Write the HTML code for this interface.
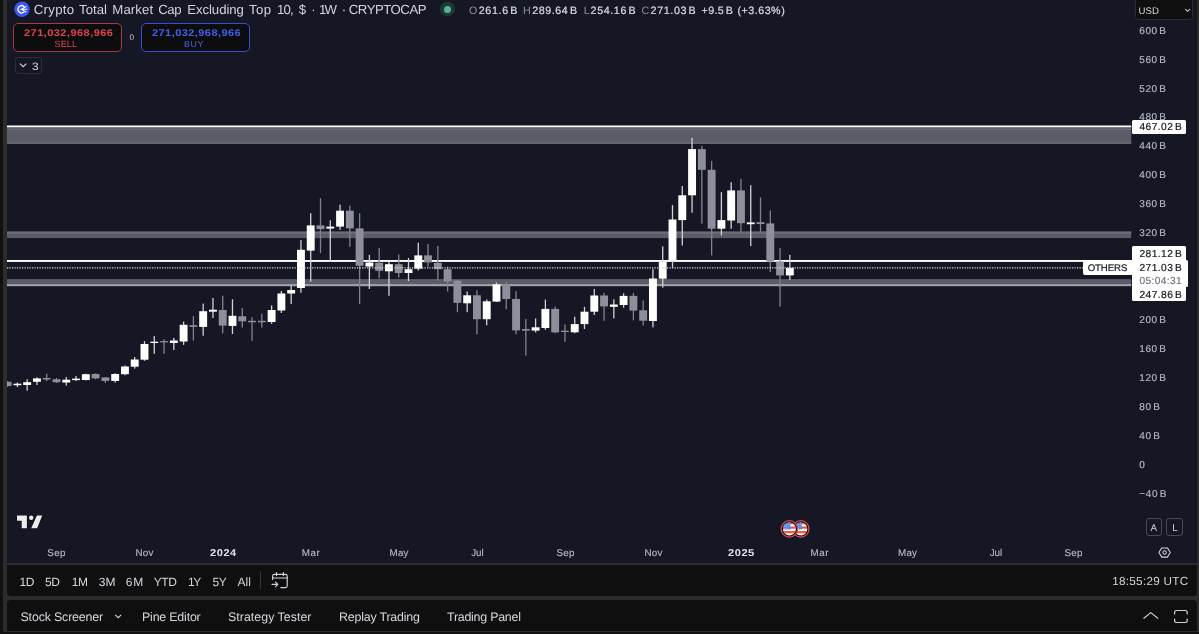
<!DOCTYPE html>
<html><head><meta charset="utf-8"><title>Crypto Total Market Cap Excluding Top 10</title>
<style>
*{margin:0;padding:0;box-sizing:border-box}
html,body{width:1199px;height:634px;overflow:hidden;background:#111111}
body{position:relative;font-family:"Liberation Sans",sans-serif;color:#d1d4dc;text-rendering:geometricPrecision}
.abs{position:absolute}
.frame{position:absolute;left:3px;top:0;width:1196px;height:632px;background:#2c2c2d}
.chartbg{position:absolute;left:7px;top:0;width:1188px;height:563.4px;background:#161724}
.rstrip{position:absolute;left:1195px;top:0;width:2px;height:563.4px;background:#14151b}
.chart{position:absolute;left:0;top:0}
.tb{position:absolute;left:7px;top:565px;width:1190px;height:30.6px;background:#0f0f10;border-radius:0 0 4px 4px}
.bp{position:absolute;left:7px;top:600.2px;width:1190px;height:30.6px;background:#0f0f10;border-radius:4px 4px 0 0}
.t{position:absolute;white-space:nowrap}
.t i{font-style:normal;margin-left:1.5px}
.pv{position:absolute;left:1132px;width:54px;background:#fff}
.btn{position:absolute;top:22.8px;width:109.2px;height:29.2px;border-radius:5px;background:#0d0d0f}
</style></head><body>
<div class="frame"></div>
<div class="chartbg"></div>
<div class="rstrip"></div>
<svg class="chart" width="1199" height="564" viewBox="0 0 1199 564">
<defs><clipPath id="cp"><rect x="7" y="0" width="1124.5" height="564"/></clipPath></defs>
<g clip-path="url(#cp)">
<rect x="7" y="127" width="1124.5" height="17" fill="#5a5d67"/>
<rect x="7" y="128.8" width="1124.5" height="1.2" fill="#696b74"/>
<rect x="7" y="142.3" width="1124.5" height="1.4" fill="#696b74"/>
<rect x="7" y="125.5" width="1124.5" height="1.7" fill="#fff"/>
<rect x="7" y="231.6" width="1124.5" height="6.5" fill="#5a5d67"/>
<rect x="7" y="231.6" width="1124.5" height="2" fill="#6c6e77"/>
<rect x="7" y="260" width="1124.5" height="1.9" fill="#fff"/>
<rect x="7" y="279.1" width="1124.5" height="5.1" fill="#5a5d67"/>
<rect x="7" y="284.1" width="1124.5" height="2.1" fill="#a4a6ae"/>
<rect x="6.95" y="381.0" width="1.3" height="6.0" fill="#80838e"/>
<rect x="3.65" y="381.8" width="7.9" height="4.2" fill="#8d909b"/>
<rect x="16.73" y="382.5" width="1.3" height="4.5" fill="#cfd1d7"/>
<rect x="13.43" y="383.7" width="7.9" height="1.5" fill="#ffffff"/>
<rect x="26.51" y="379.3" width="1.3" height="11.4" fill="#cfd1d7"/>
<rect x="23.21" y="382.2" width="7.9" height="2.8" fill="#ffffff"/>
<rect x="36.28" y="377.4" width="1.3" height="7.6" fill="#cfd1d7"/>
<rect x="32.98" y="378.4" width="7.9" height="3.4" fill="#ffffff"/>
<rect x="46.06" y="373.7" width="1.3" height="7.5" fill="#80838e"/>
<rect x="42.76" y="378.0" width="7.9" height="1.5" fill="#8d909b"/>
<rect x="55.84" y="378.0" width="1.3" height="5.0" fill="#80838e"/>
<rect x="52.54" y="379.3" width="7.9" height="2.9" fill="#8d909b"/>
<rect x="65.62" y="376.9" width="1.3" height="8.7" fill="#cfd1d7"/>
<rect x="62.32" y="379.7" width="7.9" height="2.8" fill="#ffffff"/>
<rect x="75.40" y="376.0" width="1.3" height="5.0" fill="#cfd1d7"/>
<rect x="72.10" y="378.6" width="7.9" height="1.5" fill="#ffffff"/>
<rect x="85.17" y="373.7" width="1.3" height="6.7" fill="#cfd1d7"/>
<rect x="81.87" y="374.2" width="7.9" height="5.8" fill="#ffffff"/>
<rect x="94.95" y="373.3" width="1.3" height="6.0" fill="#80838e"/>
<rect x="91.65" y="374.0" width="7.9" height="4.4" fill="#8d909b"/>
<rect x="104.73" y="377.0" width="1.3" height="6.0" fill="#80838e"/>
<rect x="101.43" y="377.4" width="7.9" height="3.5" fill="#8d909b"/>
<rect x="114.51" y="373.3" width="1.3" height="9.3" fill="#cfd1d7"/>
<rect x="111.21" y="374.0" width="7.9" height="6.9" fill="#ffffff"/>
<rect x="124.29" y="365.5" width="1.3" height="9.7" fill="#cfd1d7"/>
<rect x="120.99" y="366.5" width="7.9" height="7.7" fill="#ffffff"/>
<rect x="134.06" y="357.0" width="1.3" height="11.6" fill="#cfd1d7"/>
<rect x="130.76" y="359.5" width="7.9" height="7.2" fill="#ffffff"/>
<rect x="143.84" y="341.1" width="1.3" height="19.7" fill="#cfd1d7"/>
<rect x="140.54" y="344.0" width="7.9" height="15.7" fill="#ffffff"/>
<rect x="153.62" y="336.0" width="1.3" height="17.8" fill="#cfd1d7"/>
<rect x="150.32" y="341.7" width="7.9" height="1.3" fill="#ffffff"/>
<rect x="163.40" y="339.2" width="1.3" height="14.6" fill="#80838e"/>
<rect x="160.10" y="341.1" width="7.9" height="1.3" fill="#8d909b"/>
<rect x="173.18" y="337.9" width="1.3" height="12.1" fill="#cfd1d7"/>
<rect x="169.88" y="340.5" width="7.9" height="2.5" fill="#ffffff"/>
<rect x="182.95" y="321.6" width="1.3" height="23.3" fill="#cfd1d7"/>
<rect x="179.65" y="324.8" width="7.9" height="16.7" fill="#ffffff"/>
<rect x="192.73" y="316.2" width="1.3" height="24.4" fill="#80838e"/>
<rect x="189.43" y="325.2" width="7.9" height="1.7" fill="#8d909b"/>
<rect x="202.51" y="303.6" width="1.3" height="32.1" fill="#cfd1d7"/>
<rect x="199.21" y="311.2" width="7.9" height="15.7" fill="#ffffff"/>
<rect x="212.29" y="298.0" width="1.3" height="20.0" fill="#cfd1d7"/>
<rect x="208.99" y="309.7" width="7.9" height="2.0" fill="#ffffff"/>
<rect x="222.07" y="295.6" width="1.3" height="37.6" fill="#80838e"/>
<rect x="218.77" y="310.0" width="7.9" height="15.6" fill="#8d909b"/>
<rect x="231.84" y="299.3" width="1.3" height="34.7" fill="#cfd1d7"/>
<rect x="228.54" y="315.8" width="7.9" height="10.1" fill="#ffffff"/>
<rect x="241.62" y="308.0" width="1.3" height="19.6" fill="#80838e"/>
<rect x="238.32" y="316.3" width="7.9" height="5.0" fill="#8d909b"/>
<rect x="251.40" y="317.0" width="1.3" height="23.8" fill="#80838e"/>
<rect x="248.10" y="320.8" width="7.9" height="1.5" fill="#8d909b"/>
<rect x="261.18" y="313.7" width="1.3" height="13.9" fill="#80838e"/>
<rect x="257.88" y="320.8" width="7.9" height="1.5" fill="#8d909b"/>
<rect x="270.96" y="305.4" width="1.3" height="18.4" fill="#cfd1d7"/>
<rect x="267.66" y="310.0" width="7.9" height="12.0" fill="#ffffff"/>
<rect x="280.73" y="291.0" width="1.3" height="22.0" fill="#cfd1d7"/>
<rect x="277.43" y="293.5" width="7.9" height="17.0" fill="#ffffff"/>
<rect x="290.51" y="285.5" width="1.3" height="18.6" fill="#cfd1d7"/>
<rect x="287.21" y="290.0" width="7.9" height="3.5" fill="#ffffff"/>
<rect x="300.29" y="240.0" width="1.3" height="52.8" fill="#cfd1d7"/>
<rect x="296.99" y="249.8" width="7.9" height="38.2" fill="#ffffff"/>
<rect x="310.07" y="213.2" width="1.3" height="68.5" fill="#cfd1d7"/>
<rect x="306.77" y="225.4" width="7.9" height="25.2" fill="#ffffff"/>
<rect x="319.85" y="198.3" width="1.3" height="54.8" fill="#80838e"/>
<rect x="316.55" y="225.4" width="7.9" height="3.7" fill="#8d909b"/>
<rect x="329.62" y="220.3" width="1.3" height="41.2" fill="#cfd1d7"/>
<rect x="326.32" y="226.6" width="7.9" height="2.0" fill="#ffffff"/>
<rect x="339.40" y="204.6" width="1.3" height="25.3" fill="#cfd1d7"/>
<rect x="336.10" y="210.7" width="7.9" height="15.9" fill="#ffffff"/>
<rect x="349.18" y="205.7" width="1.3" height="41.1" fill="#80838e"/>
<rect x="345.88" y="210.7" width="7.9" height="17.7" fill="#8d909b"/>
<rect x="358.96" y="213.2" width="1.3" height="90.9" fill="#80838e"/>
<rect x="355.66" y="228.4" width="7.9" height="37.4" fill="#8d909b"/>
<rect x="368.74" y="254.9" width="1.3" height="34.1" fill="#cfd1d7"/>
<rect x="365.44" y="262.5" width="7.9" height="4.0" fill="#ffffff"/>
<rect x="378.51" y="248.0" width="1.3" height="30.4" fill="#80838e"/>
<rect x="375.21" y="262.7" width="7.9" height="8.1" fill="#8d909b"/>
<rect x="388.29" y="261.7" width="1.3" height="34.1" fill="#cfd1d7"/>
<rect x="384.99" y="264.2" width="7.9" height="7.1" fill="#ffffff"/>
<rect x="398.07" y="254.6" width="1.3" height="23.0" fill="#80838e"/>
<rect x="394.77" y="264.2" width="7.9" height="8.8" fill="#8d909b"/>
<rect x="407.85" y="257.9" width="1.3" height="23.2" fill="#cfd1d7"/>
<rect x="404.55" y="269.2" width="7.9" height="3.8" fill="#ffffff"/>
<rect x="417.63" y="242.7" width="1.3" height="27.8" fill="#cfd1d7"/>
<rect x="414.33" y="255.4" width="7.9" height="13.3" fill="#ffffff"/>
<rect x="427.40" y="244.0" width="1.3" height="22.7" fill="#80838e"/>
<rect x="424.10" y="255.4" width="7.9" height="7.0" fill="#8d909b"/>
<rect x="437.18" y="246.0" width="1.3" height="34.6" fill="#80838e"/>
<rect x="433.88" y="262.9" width="7.9" height="6.3" fill="#8d909b"/>
<rect x="446.96" y="266.7" width="1.3" height="24.8" fill="#80838e"/>
<rect x="443.66" y="269.2" width="7.9" height="12.2" fill="#8d909b"/>
<rect x="456.74" y="279.8" width="1.3" height="32.4" fill="#80838e"/>
<rect x="453.44" y="280.6" width="7.9" height="22.2" fill="#8d909b"/>
<rect x="466.52" y="291.5" width="1.3" height="20.7" fill="#cfd1d7"/>
<rect x="463.22" y="295.3" width="7.9" height="8.0" fill="#ffffff"/>
<rect x="476.29" y="290.2" width="1.3" height="44.2" fill="#80838e"/>
<rect x="472.99" y="295.3" width="7.9" height="23.9" fill="#8d909b"/>
<rect x="486.07" y="299.5" width="1.3" height="25.8" fill="#cfd1d7"/>
<rect x="482.77" y="301.3" width="7.9" height="17.9" fill="#ffffff"/>
<rect x="495.85" y="282.6" width="1.3" height="19.4" fill="#cfd1d7"/>
<rect x="492.55" y="284.4" width="7.9" height="17.2" fill="#ffffff"/>
<rect x="505.63" y="281.9" width="1.3" height="27.2" fill="#80838e"/>
<rect x="502.33" y="284.4" width="7.9" height="14.6" fill="#8d909b"/>
<rect x="515.41" y="291.2" width="1.3" height="43.2" fill="#80838e"/>
<rect x="512.11" y="299.0" width="7.9" height="31.4" fill="#8d909b"/>
<rect x="525.18" y="319.0" width="1.3" height="36.6" fill="#80838e"/>
<rect x="521.88" y="329.0" width="7.9" height="1.6" fill="#8d909b"/>
<rect x="534.96" y="318.5" width="1.3" height="13.9" fill="#cfd1d7"/>
<rect x="531.66" y="327.3" width="7.9" height="3.3" fill="#ffffff"/>
<rect x="544.74" y="299.5" width="1.3" height="30.3" fill="#cfd1d7"/>
<rect x="541.44" y="308.9" width="7.9" height="19.1" fill="#ffffff"/>
<rect x="554.52" y="306.6" width="1.3" height="26.5" fill="#80838e"/>
<rect x="551.22" y="308.9" width="7.9" height="23.5" fill="#8d909b"/>
<rect x="564.30" y="324.5" width="1.3" height="17.3" fill="#80838e"/>
<rect x="561.00" y="330.7" width="7.9" height="1.3" fill="#8d909b"/>
<rect x="574.07" y="316.7" width="1.3" height="16.5" fill="#cfd1d7"/>
<rect x="570.77" y="324.1" width="7.9" height="8.2" fill="#ffffff"/>
<rect x="583.85" y="306.8" width="1.3" height="22.2" fill="#cfd1d7"/>
<rect x="580.55" y="311.7" width="7.9" height="12.4" fill="#ffffff"/>
<rect x="593.63" y="288.9" width="1.3" height="26.1" fill="#cfd1d7"/>
<rect x="590.33" y="295.5" width="7.9" height="16.2" fill="#ffffff"/>
<rect x="603.41" y="292.9" width="1.3" height="27.8" fill="#80838e"/>
<rect x="600.11" y="295.5" width="7.9" height="10.9" fill="#8d909b"/>
<rect x="613.19" y="299.3" width="1.3" height="19.1" fill="#cfd1d7"/>
<rect x="609.89" y="304.5" width="7.9" height="2.3" fill="#ffffff"/>
<rect x="622.96" y="293.3" width="1.3" height="14.4" fill="#cfd1d7"/>
<rect x="619.66" y="295.9" width="7.9" height="9.1" fill="#ffffff"/>
<rect x="632.74" y="292.9" width="1.3" height="27.3" fill="#80838e"/>
<rect x="629.44" y="295.9" width="7.9" height="14.7" fill="#8d909b"/>
<rect x="642.52" y="300.4" width="1.3" height="25.1" fill="#80838e"/>
<rect x="639.22" y="310.3" width="7.9" height="10.4" fill="#8d909b"/>
<rect x="652.30" y="269.1" width="1.3" height="58.2" fill="#cfd1d7"/>
<rect x="649.00" y="278.5" width="7.9" height="42.5" fill="#ffffff"/>
<rect x="662.08" y="246.4" width="1.3" height="41.3" fill="#cfd1d7"/>
<rect x="658.78" y="262.0" width="7.9" height="16.7" fill="#ffffff"/>
<rect x="671.85" y="205.1" width="1.3" height="62.7" fill="#cfd1d7"/>
<rect x="668.55" y="219.5" width="7.9" height="41.3" fill="#ffffff"/>
<rect x="681.63" y="186.0" width="1.3" height="59.5" fill="#cfd1d7"/>
<rect x="678.33" y="195.3" width="7.9" height="24.8" fill="#ffffff"/>
<rect x="691.41" y="137.8" width="1.3" height="74.9" fill="#cfd1d7"/>
<rect x="688.11" y="149.1" width="7.9" height="46.2" fill="#ffffff"/>
<rect x="701.19" y="146.0" width="1.3" height="77.6" fill="#80838e"/>
<rect x="697.89" y="149.1" width="7.9" height="20.7" fill="#8d909b"/>
<rect x="710.97" y="161.0" width="1.3" height="94.4" fill="#80838e"/>
<rect x="707.67" y="169.8" width="7.9" height="58.9" fill="#8d909b"/>
<rect x="720.74" y="192.2" width="1.3" height="43.1" fill="#cfd1d7"/>
<rect x="717.44" y="220.1" width="7.9" height="8.6" fill="#ffffff"/>
<rect x="730.52" y="182.2" width="1.3" height="46.5" fill="#cfd1d7"/>
<rect x="727.22" y="190.4" width="7.9" height="30.1" fill="#ffffff"/>
<rect x="740.30" y="178.9" width="1.3" height="52.9" fill="#80838e"/>
<rect x="737.00" y="190.4" width="7.9" height="32.8" fill="#8d909b"/>
<rect x="750.08" y="185.2" width="1.3" height="60.9" fill="#cfd1d7"/>
<rect x="746.78" y="222.4" width="7.9" height="1.8" fill="#ffffff"/>
<rect x="759.86" y="197.5" width="1.3" height="34.5" fill="#80838e"/>
<rect x="756.56" y="222.2" width="7.9" height="1.8" fill="#8d909b"/>
<rect x="769.63" y="210.4" width="1.3" height="61.6" fill="#80838e"/>
<rect x="766.33" y="223.4" width="7.9" height="38.1" fill="#8d909b"/>
<rect x="779.41" y="247.9" width="1.3" height="58.7" fill="#80838e"/>
<rect x="776.11" y="261.5" width="7.9" height="13.9" fill="#8d909b"/>
<rect x="789.19" y="254.9" width="1.3" height="25.0" fill="#cfd1d7"/>
<rect x="785.89" y="267.8" width="7.9" height="7.6" fill="#ffffff"/>
<line x1="7" y1="267.8" x2="1083" y2="267.8" stroke="#d2d4db" stroke-width="1.3" stroke-dasharray="1.25 1.25"/>
</g></svg>
<svg class="abs" style="left:14px;top:1px" width="17" height="17" viewBox="0 0 17 17"><circle cx="8" cy="8.3" r="7.7" fill="#3a58ef"/><path d="M9.9 5.5A3.6 3.6 0 1 0 9.9 11.1" fill="none" stroke="#fff" stroke-width="1.3" stroke-linecap="round"/><path d="M6.6 8.3H12.8M8.4 7.7L12 5.6M8.4 8.9L12 11" stroke="#fff" stroke-width="1.1" stroke-linecap="round"/></svg>
<div class="abs" style="left:440.1px;top:1.8px;width:14.6px;height:14.6px;border-radius:50%;background:#1e3838"></div>
<div class="abs" style="left:443.8px;top:5.5px;width:7.2px;height:7.2px;border-radius:50%;background:#52b596"></div>
<div class="t " style="left:33.70px;top:2.00px;font-size:13.2px;line-height:16px;letter-spacing:0.331px;color:#d1d4dc;">Crypto</div><div class="t " style="left:79.00px;top:2.00px;font-size:13.2px;line-height:16px;letter-spacing:0.039px;color:#d1d4dc;">Total</div><div class="t " style="left:112.30px;top:2.00px;font-size:13.2px;line-height:16px;letter-spacing:0.117px;color:#d1d4dc;">Market</div><div class="t " style="left:158.20px;top:2.00px;font-size:13.2px;line-height:16px;letter-spacing:-0.394px;color:#d1d4dc;">Cap</div><div class="t " style="left:187.20px;top:2.00px;font-size:13.2px;line-height:16px;letter-spacing:-0.061px;color:#d1d4dc;">Excluding</div><div class="t " style="left:249.00px;top:2.00px;font-size:13.2px;line-height:16px;letter-spacing:0.375px;color:#d1d4dc;">Top</div><div class="t " style="left:276.90px;top:2.00px;font-size:13.2px;line-height:16px;letter-spacing:-0.822px;color:#d1d4dc;">10,</div><div class="t " style="left:298.80px;top:2.00px;font-size:13.2px;line-height:16px;letter-spacing:0.000px;color:#d1d4dc;">$</div><div class="t " style="left:311.30px;top:2.00px;font-size:13.2px;line-height:16px;letter-spacing:0.000px;color:#d1d4dc;">·</div><div class="t " style="left:319.00px;top:2.00px;font-size:13.2px;line-height:16px;letter-spacing:-1.781px;color:#d1d4dc;">1W</div><div class="t " style="left:341.70px;top:2.00px;font-size:13.2px;line-height:16px;letter-spacing:0.000px;color:#d1d4dc;">·</div><div class="t " style="left:348.80px;top:2.00px;font-size:13.2px;line-height:16px;letter-spacing:-0.487px;color:#d1d4dc;">CRYPTOCAP</div><div class="t " style="left:469.00px;top:3.00px;font-size:10.7px;line-height:16px;letter-spacing:0.000px;color:#8c909c;">O</div><div class="t " style="left:478.70px;top:3.00px;font-size:10.7px;line-height:16px;letter-spacing:0.665px;color:#d8dbe3;-webkit-text-stroke:0.22px #d8dbe3;">261.6<i>B</i></div><div class="t " style="left:523.00px;top:3.00px;font-size:10.7px;line-height:16px;letter-spacing:0.000px;color:#8c909c;">H</div><div class="t " style="left:532.20px;top:3.00px;font-size:10.7px;line-height:16px;letter-spacing:0.581px;color:#d8dbe3;-webkit-text-stroke:0.22px #d8dbe3;">289.64<i>B</i></div><div class="t " style="left:583.80px;top:3.00px;font-size:10.7px;line-height:16px;letter-spacing:0.000px;color:#8c909c;">L</div><div class="t " style="left:590.60px;top:3.00px;font-size:10.7px;line-height:16px;letter-spacing:0.615px;color:#d8dbe3;-webkit-text-stroke:0.22px #d8dbe3;">254.16<i>B</i></div><div class="t " style="left:641.40px;top:3.00px;font-size:10.7px;line-height:16px;letter-spacing:0.000px;color:#8c909c;">C</div><div class="t " style="left:650.60px;top:3.00px;font-size:10.7px;line-height:16px;letter-spacing:0.631px;color:#d8dbe3;-webkit-text-stroke:0.22px #d8dbe3;">271.03<i>B</i></div><div class="t " style="left:701.60px;top:3.00px;font-size:10.7px;line-height:16px;letter-spacing:0.370px;color:#d8dbe3;-webkit-text-stroke:0.22px #d8dbe3;">+9.5<i>B</i></div><div class="t " style="left:737.40px;top:3.00px;font-size:10.7px;line-height:16px;letter-spacing:0.521px;color:#d8dbe3;-webkit-text-stroke:0.22px #d8dbe3;">(+3.63%)</div>
<div class="btn" style="left:13.2px;border:1.1px solid #aa383f"></div>
<div class="btn" style="left:141.1px;border:1.1px solid #3650d2"></div>
<div class="t " style="left:23.70px;top:26.00px;font-size:9.8px;line-height:16px;letter-spacing:0.415px;color:#e0454e;font-weight:bold;transform:scaleX(1.12);transform-origin:0 0;">271,032,968,966</div><div class="t " style="left:54.50px;top:36.00px;font-size:9.1px;line-height:16px;letter-spacing:0.083px;color:#e0454e;">SELL</div><div class="t " style="left:151.50px;top:26.00px;font-size:9.8px;line-height:16px;letter-spacing:0.402px;color:#4160ee;font-weight:bold;transform:scaleX(1.12);transform-origin:0 0;">271,032,968,966</div><div class="t " style="left:184.00px;top:36.00px;font-size:8.9px;line-height:16px;letter-spacing:0.594px;color:#4160ee;">BUY</div><div class="t " style="left:129.40px;top:30.00px;font-size:8.2px;line-height:16px;letter-spacing:0.000px;color:#c8cbd3;">0</div><div class="t " style="left:31.60px;top:59.00px;font-size:10.8px;line-height:16px;letter-spacing:0.000px;color:#d1d4dc;transform:scaleX(1.1);transform-origin:0 0;">3</div>
<div class="abs" style="left:14.9px;top:57.4px;width:27.2px;height:16.4px;border:1px solid #2b2e39;border-radius:3px"></div>
<svg class="abs" style="left:19px;top:62px" width="9" height="7" viewBox="0 0 9 7"><path d="M1 1.6L4.2 4.6L7.4 1.6" fill="none" stroke="#d1d4dc" stroke-width="1.2"/></svg>
<div class="t " style="left:1139.30px;top:24.00px;font-size:10.0px;line-height:16px;letter-spacing:0.552px;color:#b4b7c1;-webkit-text-stroke:0.18px #b4b7c1;">600<i>B</i></div><div class="t " style="left:1139.30px;top:53.00px;font-size:10.0px;line-height:16px;letter-spacing:0.552px;color:#b4b7c1;-webkit-text-stroke:0.18px #b4b7c1;">560<i>B</i></div><div class="t " style="left:1139.30px;top:82.00px;font-size:10.0px;line-height:16px;letter-spacing:0.552px;color:#b4b7c1;-webkit-text-stroke:0.18px #b4b7c1;">520<i>B</i></div><div class="t " style="left:1139.30px;top:110.00px;font-size:10.0px;line-height:16px;letter-spacing:0.552px;color:#b4b7c1;-webkit-text-stroke:0.18px #b4b7c1;">480<i>B</i></div><div class="t " style="left:1139.30px;top:139.00px;font-size:10.0px;line-height:16px;letter-spacing:0.552px;color:#b4b7c1;-webkit-text-stroke:0.18px #b4b7c1;">440<i>B</i></div><div class="t " style="left:1139.30px;top:168.00px;font-size:10.0px;line-height:16px;letter-spacing:0.552px;color:#b4b7c1;-webkit-text-stroke:0.18px #b4b7c1;">400<i>B</i></div><div class="t " style="left:1139.30px;top:197.00px;font-size:10.0px;line-height:16px;letter-spacing:0.552px;color:#b4b7c1;-webkit-text-stroke:0.18px #b4b7c1;">360<i>B</i></div><div class="t " style="left:1139.30px;top:226.00px;font-size:10.0px;line-height:16px;letter-spacing:0.552px;color:#b4b7c1;-webkit-text-stroke:0.18px #b4b7c1;">320<i>B</i></div><div class="t " style="left:1139.30px;top:313.00px;font-size:10.0px;line-height:16px;letter-spacing:0.552px;color:#b4b7c1;-webkit-text-stroke:0.18px #b4b7c1;">200<i>B</i></div><div class="t " style="left:1139.30px;top:342.00px;font-size:10.0px;line-height:16px;letter-spacing:0.552px;color:#b4b7c1;-webkit-text-stroke:0.18px #b4b7c1;">160<i>B</i></div><div class="t " style="left:1139.30px;top:371.00px;font-size:10.0px;line-height:16px;letter-spacing:0.552px;color:#b4b7c1;-webkit-text-stroke:0.18px #b4b7c1;">120<i>B</i></div><div class="t " style="left:1139.30px;top:400.00px;font-size:10.0px;line-height:16px;letter-spacing:0.659px;color:#b4b7c1;-webkit-text-stroke:0.18px #b4b7c1;">80<i>B</i></div><div class="t " style="left:1139.30px;top:429.00px;font-size:10.0px;line-height:16px;letter-spacing:0.659px;color:#b4b7c1;-webkit-text-stroke:0.18px #b4b7c1;">40<i>B</i></div><div class="t " style="left:1139.30px;top:458.00px;font-size:10.0px;line-height:16px;letter-spacing:0.000px;color:#b4b7c1;-webkit-text-stroke:0.18px #b4b7c1;">0</div><div class="t " style="left:1139.30px;top:487.00px;font-size:10.0px;line-height:16px;letter-spacing:0.692px;color:#b4b7c1;-webkit-text-stroke:0.18px #b4b7c1;">−40<i>B</i></div>
<div class="abs" style="left:1135.3px;top:-2px;width:57.7px;height:22.4px;background:#0f0f10;border:1px solid #2a2d37;border-radius:3.5px"></div>
<svg class="abs" style="left:1184px;top:7.7px" width="8" height="6" viewBox="0 0 8 6"><path d="M1.3 1.2L3.6 3.3L5.9 1.2" fill="none" stroke="#d1d4dc" stroke-width="1.1"/></svg>
<div class="pv" style="top:119.5px;height:14.2px;border-radius:1.5px"></div>
<div class="pv" style="top:246.3px;height:14.2px;border-radius:1.5px 1.5px 0 0"></div>
<div class="pv" style="top:260.4px;height:26.7px;width:56px;border-radius:0 1.5px 1.5px 0"></div>
<div class="pv" style="top:287px;height:14.3px;border-radius:0 0 1.5px 1.5px"></div>
<div class="abs" style="left:1083px;top:260px;width:48.8px;height:15px;background:#fff;border-radius:0 0 0 2px"></div>
<div class="abs" style="left:1145.9px;top:518.4px;width:16.6px;height:18px;border:1px solid #474a56;border-radius:3px"></div>
<div class="abs" style="left:1166.2px;top:518.4px;width:16.6px;height:18px;border:1px solid #474a56;border-radius:3px"></div>
<div class="t " style="left:1139.40px;top:120.00px;font-size:10.2px;line-height:16px;letter-spacing:0.472px;color:#14161e;-webkit-text-stroke:0.2px #14161e;">467.02<i>B</i></div><div class="t " style="left:1139.40px;top:247.00px;font-size:10.2px;line-height:16px;letter-spacing:0.472px;color:#14161e;-webkit-text-stroke:0.2px #14161e;">281.12<i>B</i></div><div class="t " style="left:1139.40px;top:261.00px;font-size:10.2px;line-height:16px;letter-spacing:0.472px;color:#14161e;-webkit-text-stroke:0.2px #14161e;">271.03<i>B</i></div><div class="t " style="left:1139.60px;top:274.00px;font-size:10.2px;line-height:16px;letter-spacing:0.335px;color:#6d707a;-webkit-text-stroke:0.15px #6d707a;">05:04:31</div><div class="t " style="left:1139.40px;top:288.00px;font-size:10.2px;line-height:16px;letter-spacing:0.472px;color:#14161e;-webkit-text-stroke:0.2px #14161e;">247.86<i>B</i></div><div class="t " style="left:1087.70px;top:261.00px;font-size:9.6px;line-height:16px;letter-spacing:-0.074px;color:#14161e;-webkit-text-stroke:0.2px #14161e;">OTHERS</div><div class="t " style="left:1138.60px;top:4.00px;font-size:9.6px;line-height:16px;letter-spacing:0.025px;color:#d5d7dd;">USD</div><div class="t " style="left:1150.60px;top:521.00px;font-size:9.7px;line-height:16px;letter-spacing:0.000px;color:#d5d7dd;">A</div><div class="t " style="left:1172.20px;top:521.00px;font-size:9.7px;line-height:16px;letter-spacing:0.000px;color:#d5d7dd;">L</div>
<svg class="abs" style="left:1157px;top:545px" width="15" height="15" viewBox="0 0 15 15"><path d="M4.8 2.9H10.4L13.3 7.5L10.4 12.1H4.8L1.9 7.5Z" fill="none" stroke="#d1d4dc" stroke-width="1.05" stroke-linejoin="round"/><circle cx="7.6" cy="7.5" r="1.7" fill="none" stroke="#d1d4dc" stroke-width="1.05"/></svg>
<svg class="abs" style="left:14px;top:512px" width="32" height="20" viewBox="0 0 32 20"><g fill="#ececec" stroke="#0c0d12" stroke-width="1.2" paint-order="stroke"><path d="M3 3.6H12.9V16.2H7.7V8.8H3Z"/><circle cx="17.2" cy="5.8" r="2.2"/><path d="M22.9 3.6H28.3L23.1 16.2H17.2Z"/></g></svg>
<svg class="abs" style="left:778px;top:518px" width="36" height="22" viewBox="0 0 36 22"><defs><clipPath id="fc"><circle cx="0" cy="0" r="6.5"/></clipPath><g id="fl"><circle cx="0" cy="0" r="8.2" fill="#22060b" stroke="#d8535d" stroke-width="1.2"/><g clip-path="url(#fc)"><rect x="-7" y="-7" width="14" height="14" fill="#fff4ef"/><rect x="-7" y="-6.8" width="14" height="2.2" fill="#e46a5e"/><rect x="-7" y="-2.4" width="14" height="2.2" fill="#e25a4e"/><rect x="-7" y="2.1" width="14" height="2.4" fill="#e4604f"/><rect x="-7" y="-7" width="7.9" height="7.5" fill="#4a86e6"/><g fill="#cfe3ff"><circle cx="-4.6" cy="-4.6" r="0.5"/><circle cx="-2.6" cy="-4.6" r="0.5"/><circle cx="-0.6" cy="-4.6" r="0.5"/><circle cx="-4.6" cy="-2.6" r="0.5"/><circle cx="-2.6" cy="-2.6" r="0.5"/><circle cx="-0.6" cy="-2.6" r="0.5"/><circle cx="-4.6" cy="-0.6" r="0.5"/><circle cx="-2.6" cy="-0.6" r="0.5"/></g></g></g></defs><use href="#fl" x="22.8" y="10.9"/><use href="#fl" x="11.4" y="10.9"/></svg>
<div class="t " style="left:47.30px;top:546.00px;font-size:9.8px;line-height:16px;letter-spacing:0.366px;color:#b4b7c1;-webkit-text-stroke:0.15px #b4b7c1;">Sep</div><div class="t " style="left:135.60px;top:546.00px;font-size:9.8px;line-height:16px;letter-spacing:0.181px;color:#b4b7c1;-webkit-text-stroke:0.15px #b4b7c1;">Nov</div><div class="t " style="left:209.55px;top:546.00px;font-size:9.9px;line-height:16px;letter-spacing:0.484px;color:#dfe1e8;font-weight:bold;transform:scaleX(1.12);transform-origin:0 0;">2024</div><div class="t " style="left:301.65px;top:546.00px;font-size:9.8px;line-height:16px;letter-spacing:0.597px;color:#b4b7c1;-webkit-text-stroke:0.15px #b4b7c1;">Mar</div><div class="t " style="left:389.55px;top:546.00px;font-size:9.8px;line-height:16px;letter-spacing:0.184px;color:#b4b7c1;-webkit-text-stroke:0.15px #b4b7c1;">May</div><div class="t " style="left:471.20px;top:546.00px;font-size:9.8px;line-height:16px;letter-spacing:0.034px;color:#b4b7c1;-webkit-text-stroke:0.15px #b4b7c1;">Jul</div><div class="t " style="left:556.40px;top:546.00px;font-size:9.8px;line-height:16px;letter-spacing:0.366px;color:#b4b7c1;-webkit-text-stroke:0.15px #b4b7c1;">Sep</div><div class="t " style="left:644.60px;top:546.00px;font-size:9.8px;line-height:16px;letter-spacing:0.181px;color:#b4b7c1;-webkit-text-stroke:0.15px #b4b7c1;">Nov</div><div class="t " style="left:728.35px;top:546.00px;font-size:9.9px;line-height:16px;letter-spacing:0.484px;color:#dfe1e8;font-weight:bold;transform:scaleX(1.12);transform-origin:0 0;">2025</div><div class="t " style="left:810.45px;top:546.00px;font-size:9.8px;line-height:16px;letter-spacing:0.597px;color:#b4b7c1;-webkit-text-stroke:0.15px #b4b7c1;">Mar</div><div class="t " style="left:898.05px;top:546.00px;font-size:9.8px;line-height:16px;letter-spacing:0.184px;color:#b4b7c1;-webkit-text-stroke:0.15px #b4b7c1;">May</div><div class="t " style="left:989.70px;top:546.00px;font-size:9.8px;line-height:16px;letter-spacing:0.034px;color:#b4b7c1;-webkit-text-stroke:0.15px #b4b7c1;">Jul</div><div class="t " style="left:1064.40px;top:546.00px;font-size:9.8px;line-height:16px;letter-spacing:0.366px;color:#b4b7c1;-webkit-text-stroke:0.15px #b4b7c1;">Sep</div>
<div class="tb"></div>
<div class="bp"></div>
<div class="t " style="left:19.50px;top:574.00px;font-size:12.0px;line-height:16px;letter-spacing:-0.544px;color:#d3d5dc;">1D</div><div class="t " style="left:45.00px;top:574.00px;font-size:12.0px;line-height:16px;letter-spacing:-0.344px;color:#d3d5dc;">5D</div><div class="t " style="left:71.80px;top:574.00px;font-size:12.0px;line-height:16px;letter-spacing:-0.456px;color:#d3d5dc;">1M</div><div class="t " style="left:98.80px;top:574.00px;font-size:12.0px;line-height:16px;letter-spacing:0.044px;color:#d3d5dc;">3M</div><div class="t " style="left:125.80px;top:574.00px;font-size:12.0px;line-height:16px;letter-spacing:0.844px;color:#d3d5dc;">6M</div><div class="t " style="left:153.80px;top:574.00px;font-size:12.0px;line-height:16px;letter-spacing:-0.500px;color:#d3d5dc;">YTD</div><div class="t " style="left:188.00px;top:574.00px;font-size:12.0px;line-height:16px;letter-spacing:-1.387px;color:#d3d5dc;">1Y</div><div class="t " style="left:212.50px;top:574.00px;font-size:12.0px;line-height:16px;letter-spacing:-0.387px;color:#d3d5dc;">5Y</div><div class="t " style="left:237.50px;top:574.00px;font-size:12.0px;line-height:16px;letter-spacing:-0.022px;color:#d3d5dc;">All</div><div class="t " style="left:1112.20px;top:574.00px;font-size:11.7px;line-height:16px;letter-spacing:0.295px;color:#d3d5dc;">18:55:29 UTC</div>
<div class="abs" style="left:259.6px;top:571px;width:1.2px;height:18.5px;background:#363638"></div>
<svg class="abs" style="left:270px;top:571px" width="20" height="19" viewBox="0 0 20 19"><g fill="none" stroke="#d1d4dc" stroke-width="1.15" stroke-linecap="round" stroke-linejoin="round"><path d="M2.6 8.5V5.2Q2.6 3.4 4.4 3.4H15.4Q17.2 3.4 17.2 5.2V14.8Q17.2 16.6 15.4 16.6H10.8"/><path d="M2.6 7H17.2"/><path d="M6.4 1.6V4.6M13.4 1.6V4.6"/><path d="M2 13.4H7.6M5.5 11.1L7.8 13.4L5.5 15.7"/></g></svg>
<div class="t " style="left:20.50px;top:609.00px;font-size:12.4px;line-height:16px;letter-spacing:-0.155px;color:#d5d7dd;">Stock Screener</div><div class="t " style="left:142.00px;top:609.00px;font-size:12.4px;line-height:16px;letter-spacing:-0.189px;color:#d5d7dd;">Pine Editor</div><div class="t " style="left:228.00px;top:609.00px;font-size:12.4px;line-height:16px;letter-spacing:0.027px;color:#d5d7dd;">Strategy Tester</div><div class="t " style="left:339.00px;top:609.00px;font-size:12.4px;line-height:16px;letter-spacing:-0.188px;color:#d5d7dd;">Replay Trading</div><div class="t " style="left:447.00px;top:609.00px;font-size:12.4px;line-height:16px;letter-spacing:-0.232px;color:#d5d7dd;">Trading Panel</div>
<svg class="abs" style="left:113.5px;top:612.5px" width="9" height="7" viewBox="0 0 9 7"><path d="M1.2 1.8L4.2 4.7L7.2 1.8" fill="none" stroke="#d1d4dc" stroke-width="1.1"/></svg>
<svg class="abs" style="left:1142px;top:610px" width="18" height="10" viewBox="0 0 18 10"><path d="M1.8 8.2L8.8 2.6L15.8 8.2" fill="none" stroke="#d1d4dc" stroke-width="1.1" stroke-linecap="round" stroke-linejoin="round"/></svg>
<svg class="abs" style="left:1173px;top:608.5px" width="16" height="15" viewBox="0 0 16 15"><g fill="none" stroke="#d1d4dc" stroke-width="1.2" stroke-linecap="round"><path d="M1.6 4.9V3.4Q1.6 1.5 3.5 1.5H12.3Q14.2 1.5 14.2 3.4V4.9"/><path d="M1.6 10.1V11.6Q1.6 13.5 3.5 13.5H12.3Q14.2 13.5 14.2 11.6V10.1"/></g></svg>
<div class="abs" style="left:0;top:632px;width:1199px;height:2px;background:#111111"></div>
</body></html>
